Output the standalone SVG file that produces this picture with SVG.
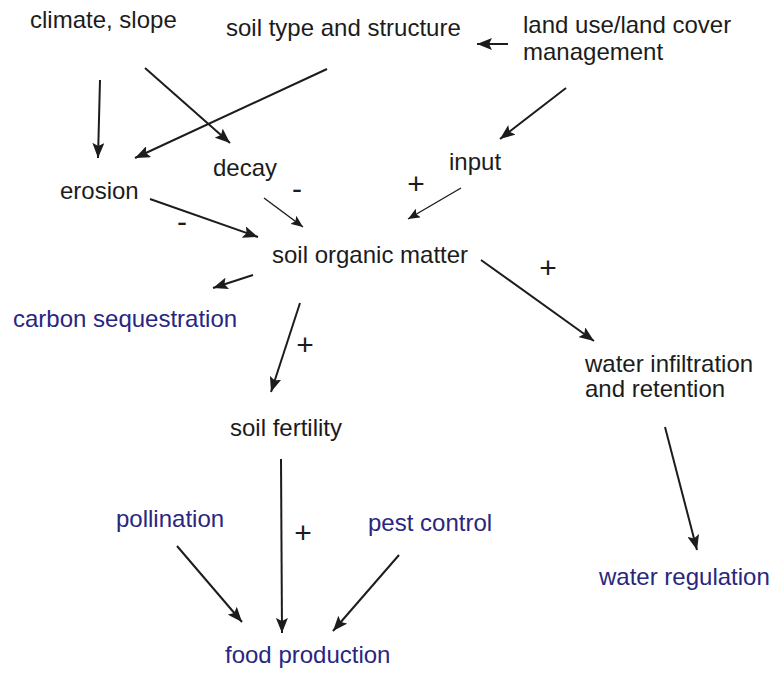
<svg xmlns="http://www.w3.org/2000/svg" width="771" height="673" viewBox="0 0 771 673">
  <style>
    text { font-family: "Liberation Sans", Arial, sans-serif; font-size: 24px; fill: #1c1c1c; }
    text.svc { fill: #2a2680; }
    text.sign { font-size: 30px; text-anchor: middle; }
    .link { stroke: #1c1c1c; stroke-width: 2; fill: none; marker-end: url(#head); }
    .link.thin { stroke-width: 1.4; marker-end: url(#headSmall); }
  </style>
  <defs>
    <marker id="head" markerUnits="userSpaceOnUse" markerWidth="16" markerHeight="12" refX="15" refY="6" orient="auto">
      <path d="M0,0 L15,6 L0,12 L3,6 z" fill="#1c1c1c"/>
    </marker>
    <marker id="headSmall" markerUnits="userSpaceOnUse" markerWidth="13" markerHeight="10" refX="12" refY="5" orient="auto">
      <path d="M0,0 L12,5 L0,10 L2.5,5 z" fill="#1c1c1c"/>
    </marker>
  </defs>

  <!-- drivers -->
  <g id="climate"><text x="30" y="28">climate, slope</text></g>
  <g id="soil-type"><text x="226" y="36">soil type and structure</text></g>
  <g id="land-use">
    <text x="523" y="33">land use/land cover</text>
    <text x="523" y="60">management</text>
  </g>

  <!-- processes -->
  <g id="erosion"><text x="60" y="199">erosion</text></g>
  <g id="decay"><text x="213" y="176">decay</text></g>
  <g id="input"><text x="449" y="170">input</text></g>
  <g id="som"><text x="272" y="263">soil organic matter</text></g>
  <g id="fertility"><text x="230" y="436">soil fertility</text></g>
  <g id="infiltration">
    <text x="585" y="372">water infiltration</text>
    <text x="585" y="397">and retention</text>
  </g>

  <!-- services -->
  <g id="carbon"><text class="svc" x="13" y="327">carbon sequestration</text></g>
  <g id="pollination"><text class="svc" x="116" y="527">pollination</text></g>
  <g id="pest"><text class="svc" x="368" y="531">pest control</text></g>
  <g id="food"><text class="svc" x="225" y="663">food production</text></g>
  <g id="water-regulation"><text class="svc" x="599" y="585">water regulation</text></g>

  <!-- influence signs -->
  <g id="signs">
    <text class="sign" x="297" y="199">-</text>
    <text class="sign" x="182" y="232">-</text>
    <text class="sign" x="416" y="194">+</text>
    <text class="sign" x="548" y="278">+</text>
    <text class="sign" x="305" y="355">+</text>
    <text class="sign" x="303" y="543">+</text>
  </g>

  <g id="connectors">
    <line class="link" x1="100" y1="80" x2="98" y2="158"/>
    <line class="link" x1="145" y1="68" x2="230" y2="143"/>
    <line class="link" x1="327" y1="69" x2="135" y2="158"/>
    <line class="link" x1="508" y1="44" x2="477" y2="44"/>
    <line class="link" x1="566" y1="88" x2="500" y2="139"/>
    <line class="link" x1="150" y1="199" x2="258" y2="237"/>
    <line class="link thin" x1="264" y1="198" x2="303" y2="227"/>
    <line class="link thin" x1="461" y1="188" x2="408" y2="219"/>
    <line class="link" x1="253" y1="275" x2="213" y2="288"/>
    <line class="link" x1="300" y1="303" x2="271" y2="392"/>
    <line class="link" x1="481" y1="260" x2="594" y2="341"/>
    <line class="link" x1="665" y1="427" x2="697" y2="550"/>
    <line class="link" x1="281" y1="459" x2="282" y2="633"/>
    <line class="link" x1="177" y1="546" x2="242" y2="622"/>
    <line class="link" x1="399" y1="555" x2="333" y2="631"/>
  </g>
</svg>
